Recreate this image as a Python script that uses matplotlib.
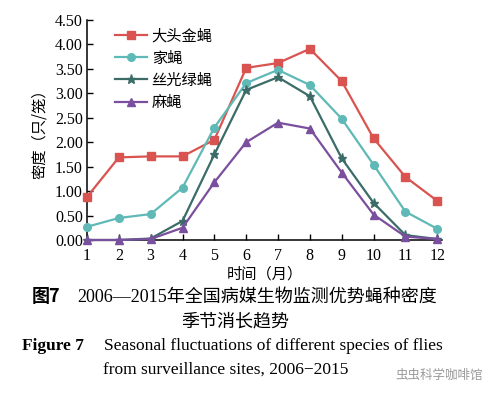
import matplotlib
matplotlib.use("Agg")
import matplotlib.pyplot as plt

months = [1, 2, 3, 4, 5, 6, 7, 8, 9, 10, 11, 12]
series_names = ["大头金蝇", "家蝇", "丝光绿蝇", "麻蝇"]
chrysomya = [0.88, 1.69, 1.71, 1.71, 2.05, 3.52, 3.62, 3.91, 3.25, 2.08, 1.29, 0.80]
musca = [0.27, 0.45, 0.53, 1.07, 2.30, 3.21, 3.48, 3.17, 2.48, 1.54, 0.58, 0.23]
lucilia = [0.00, 0.00, 0.03, 0.39, 1.75, 3.07, 3.33, 2.94, 1.67, 0.76, 0.10, 0.02]
sarcophaga = [0.00, 0.00, 0.02, 0.25, 1.18, 2.00, 2.40, 2.28, 1.38, 0.52, 0.07, 0.02]
yticks = [0.0, 0.5, 1.0, 1.5, 2.0, 2.5, 3.0, 3.5, 4.0, 4.5]

colors = ["#d95450", "#5fb9b6", "#3b6c68", "#7a4f9e"]
markers = ["s", "o", "*", "^"]
msizes = [5.5, 5.5, 6.5, 6]

plt.rcParams["font.family"] = ["Liberation Serif", "Noto Sans CJK SC"]

W, H = 495, 395
fig = plt.figure(figsize=(W / 100, H / 100), dpi=100)
fig.patch.set_facecolor("white")

def fx(px):
    return px / W

def fy(py):
    return 1 - py / H

ax = fig.add_axes([fx(87), fy(240), fx(355), fy(20) - fy(240)])
data = [chrysomya, musca, lucilia, sarcophaga]
for name, vals, c, m, ms in zip(series_names, data, colors, markers, msizes):
    ax.plot(months, vals, color=c, marker=m, markersize=ms, linewidth=1.6,
            label=name, clip_on=False, zorder=3)

ax.set_xlim(1, 12.15)
ax.set_ylim(0, 4.5)
ax.set_xticks(months)
ax.set_yticks(yticks)
ax.set_yticklabels([f"{v:.2f}" for v in yticks])
ax.tick_params(direction="in", length=4, width=1, labelsize=11.5, pad=3)
ax.tick_params(axis="x", pad=6)
for s in ["top", "right"]:
    ax.spines[s].set_visible(False)
for s in ["left", "bottom"]:
    ax.spines[s].set_linewidth(1.1)

ax.set_ylabel("密度（只/笼）", fontsize=11, labelpad=5,
              family=["Noto Sans CJK SC"])
ax.set_xlabel("时间（月）", fontsize=11, labelpad=1,
              family=["Noto Sans CJK SC"])

leg = ax.legend(loc="upper left", bbox_to_anchor=(0.04, 1.03), frameon=False,
                handlelength=2.1, handletextpad=0.3, labelspacing=0.35,
                prop={"family": "Noto Sans CJK SC", "size": 11})

cjk = ["Liberation Serif", "Noto Sans CJK SC"]
fig.text(fx(32), fy(297), "图7", fontsize=13, fontweight="bold",
         family=["Noto Sans CJK SC"], va="center", ha="left")
fig.text(fx(77), fy(297), "2006—2015年全国病媒生物监测优势蝇种密度",
         fontsize=13, family=cjk, va="center", ha="left")
fig.text(fx(235), fy(322), "季节消长趋势", fontsize=13, family=cjk,
         va="center", ha="center")
fig.text(fx(22), fy(346), "Figure 7", fontsize=12.5, fontweight="bold",
         family=["Liberation Serif"], va="center", ha="left")
fig.text(fx(104), fy(346), "Seasonal fluctuations of different species of flies",
         fontsize=12.5, family=["Liberation Serif"], va="center", ha="left")
fig.text(fx(103), fy(370), "from surveillance sites, 2006\u22122015",
         fontsize=12.5, family=["Liberation Serif"], va="center", ha="left")
fig.text(fx(395), fy(375), "虫虫科学咖啡馆", fontsize=9, color="#9a9a9a",
         family=["Noto Sans CJK SC"], va="center", ha="left")

fig.savefig("out.png", dpi=100)
